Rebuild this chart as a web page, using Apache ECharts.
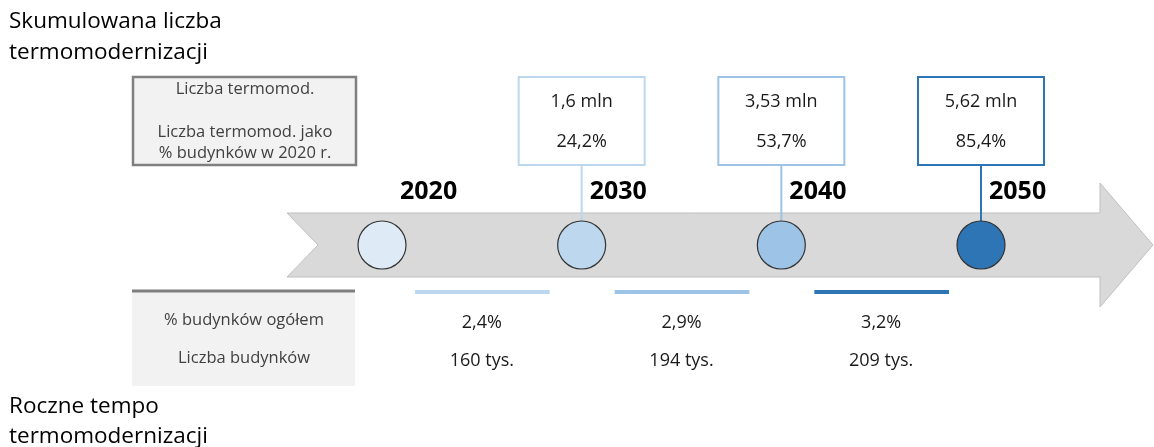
<!DOCTYPE html>
<html>
<head>
<meta charset="utf-8">
<script src="https://cdn.jsdelivr.net/npm/echarts@6/dist/echarts.min.js"></script>
<style>
  html, body { margin: 0; padding: 0; background: #fff; }
  #chart { width: 1154px; height: 447px; }
</style>
</head>
<body>
<div id="chart"></div>
<script>
// milestones on the timeline
const years = [2020, 2030, 2040, 2050]
const pointColors = ['#DEEBF7', '#BDD7EE', '#9DC3E6', '#2E75B6']
// cumulative numbers (no box for 2020)
const cumulative = [null, '1,6 mln', '3,53 mln', '5,62 mln']
const cumulativeShare = [null, '24,2%', '53,7%', '85,4%']
// yearly pace between milestones
const periodStart = [2020, 2030, 2040]
const periodEnd = [2030, 2040, 2050]
const annualShare = ['2,4%', '2,9%', '3,2%']
const annualCount = ['160 tys.', '194 tys.', '209 tys.']
const periodColors = ['#BDD7EE', '#9DC3E6', '#2E75B6']

const FONT = '"Open Sans", "Noto Sans", sans-serif'

const chart = echarts.init(document.getElementById('chart'))

function valueText(text, x, y) {
  return {
    type: 'text',
    style: {
      text: text, x: x, y: y,
      align: 'center', verticalAlign: 'middle',
      fontSize: 18, fontFamily: FONT, fill: '#1a1a1a',
    },
  }
}

function renderBox(params, api) {
  const i = params.dataIndex + 1
  const c = api.coord([api.value(0), 0])
  const col = pointColors[i]
  return {
    type: 'group',
    children: [
      {
        type: 'line',
        shape: { x1: c[0], y1: c[1] - 80, x2: c[0], y2: c[1] - 22 },
        style: { stroke: col, lineWidth: 2 },
      },
      {
        type: 'rect',
        shape: { x: c[0] - 63, y: c[1] - 168, width: 126, height: 88 },
        style: { fill: '#fff', stroke: col, lineWidth: 2 },
      },
      valueText(cumulative[i], c[0], c[1] - 143),
      valueText(cumulativeShare[i], c[0], c[1] - 103),
    ],
  }
}

function renderPeriod(params, api) {
  const i = params.dataIndex
  const a = api.coord([api.value(0), 0])
  const b = api.coord([api.value(1), 0])
  const mid = (a[0] + b[0]) / 2
  return {
    type: 'group',
    children: [
      {
        type: 'line',
        shape: { x1: a[0] + 33, y1: a[1] + 47, x2: b[0] - 32, y2: a[1] + 47 },
        style: { stroke: periodColors[i], lineWidth: 4 },
      },
      valueText(annualShare[i], mid, a[1] + 78),
      valueText(annualCount[i], mid, a[1] + 116),
    ],
  }
}

function legendText(text, x, y) {
  return {
    type: 'text', z: 2,
    style: {
      text: text, x: x, y: y, align: 'center', verticalAlign: 'middle',
      fontSize: 16.5, fontFamily: FONT, fill: '#404040',
    },
  }
}

chart.setOption({
  animation: false,
  grid: { left: 382, right: 173, top: 205, bottom: 162 },
  xAxis: { type: 'value', min: 2020, max: 2050, show: false },
  yAxis: { type: 'value', min: -1, max: 1, show: false },
  graphic: [
    // big grey arrow
    {
      type: 'polygon', z: 1,
      shape: {
        points: [[287, 213], [1100, 213], [1100, 183], [1153, 245],
          [1100, 307], [1100, 277], [287, 277], [318, 245]],
      },
      style: { fill: '#D9D9D9', stroke: '#BFBFBF', lineWidth: 1 },
    },
    // titles
    { type: 'text', left: 9, top: 6, style: { text: 'Skumulowana liczba\ntermomodernizacji', fontSize: 22.5, lineHeight: 31, fontFamily: FONT, fill: '#000' } },
    { type: 'text', left: 9, top: 392, style: { text: 'Roczne tempo\ntermomodernizacji', fontSize: 22.5, lineHeight: 30, fontFamily: FONT, fill: '#000' } },
    // legend box top
    {
      type: 'rect', z: 1,
      shape: { x: 133, y: 77, width: 223, height: 88 },
      style: { fill: '#F2F2F2', stroke: '#808080', lineWidth: 2.5 },
    },
    legendText('Liczba termomod.', 245, 89),
    legendText('Liczba termomod. jako', 245, 132),
    legendText('% budynków w 2020 r.', 245, 153),
    // legend box bottom
    {
      type: 'rect', z: 1,
      shape: { x: 132, y: 291, width: 223, height: 95 },
      style: { fill: '#F2F2F2' },
    },
    {
      type: 'line', z: 2,
      shape: { x1: 132, y1: 291, x2: 355, y2: 291 },
      style: { stroke: '#7F7F7F', lineWidth: 3 },
    },
    legendText('% budynków ogółem', 244, 320),
    legendText('Liczba budynków', 244, 358),
  ],
  series: [
    {
      type: 'custom',
      z: 3,
      renderItem: renderBox,
      data: years.slice(1).map(y => [y, 0]),
    },
    {
      type: 'custom',
      z: 3,
      renderItem: renderPeriod,
      data: periodStart.map((s, i) => [s, periodEnd[i]]),
    },
    {
      type: 'scatter',
      z: 5,
      symbol: 'circle',
      symbolSize: 48,
      data: years.map((y, i) => ({
        value: [y, 0],
        itemStyle: { color: pointColors[i] },
        label: { offset: [i === 0 ? 18 : 8, -53] },
      })),
      itemStyle: { borderColor: '#333', borderWidth: 1.2, opacity: 1 },
      label: {
        show: true,
        position: 'inside',
        align: 'left',
        formatter: p => String(p.value[0]),
        fontSize: 25,
        fontWeight: 'bold',
        fontFamily: FONT,
        color: '#000',
      },
      emphasis: { disabled: true },
    },
  ],
})
</script>
</body>
</html>
